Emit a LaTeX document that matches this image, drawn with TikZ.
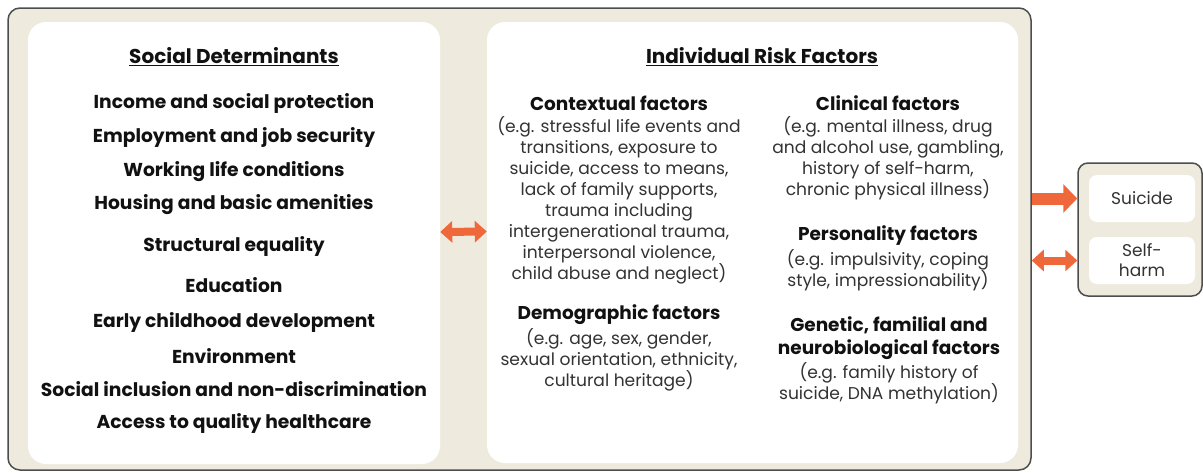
\documentclass[tikz,border=0pt]{standalone}
\usepackage{fontspec}
\setmainfont{Poppins}
\usetikzlibrary{arrows.meta,calc}
\definecolor{beige}{HTML}{EEEBDE}
\definecolor{frame}{HTML}{4D4D4D}
\definecolor{orng}{HTML}{EE683B}
\definecolor{txt}{HTML}{111111}
\definecolor{body}{HTML}{333333}
\tikzset{
  panel/.style={fill=white, draw=none, rounded corners=18pt, inner sep=0pt},
  item/.style={font=\bfseries\fontsize{18.7}{22}\selectfont, text=txt, anchor=center, inner sep=0pt},
  title/.style={font=\bfseries\fontsize{20}{24}\selectfont, text=txt, anchor=center, inner sep=0pt},
  head/.style={font=\bfseries\fontsize{18.5}{23}\selectfont, text=txt, anchor=center, inner sep=0pt},
  desc/.style={font=\fontsize{17.1}{21}\selectfont, text=body, align=center, anchor=north, inner sep=0pt},
  outc/.style={fill=white, rounded corners=8pt, minimum width=106pt, minimum height=47pt, inner sep=0pt, font=\fontsize{17}{20}\selectfont, text=body, align=center},
  fat/.style={orng, line width=12pt, -{Triangle[length=14pt 0 0, width=28pt 0 0]}},
  dbl/.style={orng, line width=8pt, {Triangle[length=12pt 0 0, width=21pt 0 0]}-{Triangle[length=12pt 0 0, width=21pt 0 0]}},
}
\begin{document}
\begin{tikzpicture}[x=1pt,y=-1pt]
\useasboundingbox (0,0) rectangle (1203,472);
% outer frame
\node[draw=frame, line width=1.5pt, fill=beige, rounded corners=12pt, minimum width=1023pt, minimum height=462pt, inner sep=0pt] (outer) at (519.5,239) {};
% panels
\node[panel, minimum width=412pt, minimum height=442pt] (lp) at (234,243) {};
\node[panel, minimum width=531pt, minimum height=441pt] (rp) at (752.5,242.5) {};
% outcome box
\node[draw=frame, line width=1.5pt, fill=beige, rounded corners=10pt, minimum width=124pt, minimum height=133pt, inner sep=0pt] (ob) at (1140,229.5) {};
\node[outc] (sui) at (1142,198.5) {Suicide};
\node[outc] (sh) at (1142,260.5) {Self-\\harm};
% left panel text
\node[title] (sdh) at (234,57) {\underline{Social Determinants}};
\node[item] (i1) at (234,103) {Income and social protection};
\node[item] (i2) at (234,137) {Employment and job security};
\node[item] (i3) at (234,172) {Working life conditions};
\node[item] (i4) at (234,205) {Housing and basic amenities};
\node[item] (i5) at (234,246) {Structural equality};
\node[item] (i6) at (234,285) {Education};
\node[item] (i7) at (234,322) {Early childhood development};
\node[item] (i8) at (234,356) {Environment};
\node[item] (i9) at (234,389) {Social inclusion and non-discrimination};
\node[item] (i10) at (234,423) {Access to quality healthcare};
% right panel text
\node[title] (irf) at (762,57) {\underline{Individual Risk Factors}};
\node[head] (ctx) at (619,103) {Contextual factors};
\node[desc] (ctxd) at (619,116) {(e.g. stressful life events and\\transitions, exposure to\\suicide, access to means,\\lack of family supports,\\trauma including\\intergenerational trauma,\\interpersonal violence,\\child abuse and neglect)};
\node[head] (dem) at (619,315) {Demographic factors};
\node[desc] (demd) at (619,328) {(e.g. age, sex, gender,\\sexual orientation, ethnicity,\\cultural heritage)};
\node[head] (cli) at (888,103) {Clinical factors};
\node[desc] (clid) at (888,116) {(e.g. mental illness, drug\\and alcohol use, gambling,\\history of self-harm,\\chronic physical illness)};
\node[head] (per) at (888,236) {Personality factors};
\node[desc] (perd) at (888,249) {(e.g. impulsivity, coping\\style, impressionability)};
\node[head, align=center, anchor=north] (gen) at (889,316) {Genetic, familial and\\neurobiological factors};
\node[desc] (gend) at (889,362) {(e.g. family history of\\suicide, DNA methylation)};
% arrows
\draw[dbl] ([yshift=11pt]lp.east) -- ([yshift=11pt]rp.west);
\draw[fat] (outer.east |- sui) -- (ob.west |- sui);
\draw[dbl] (outer.east |- sh) -- (ob.west |- sh);
\end{tikzpicture}
\end{document}
